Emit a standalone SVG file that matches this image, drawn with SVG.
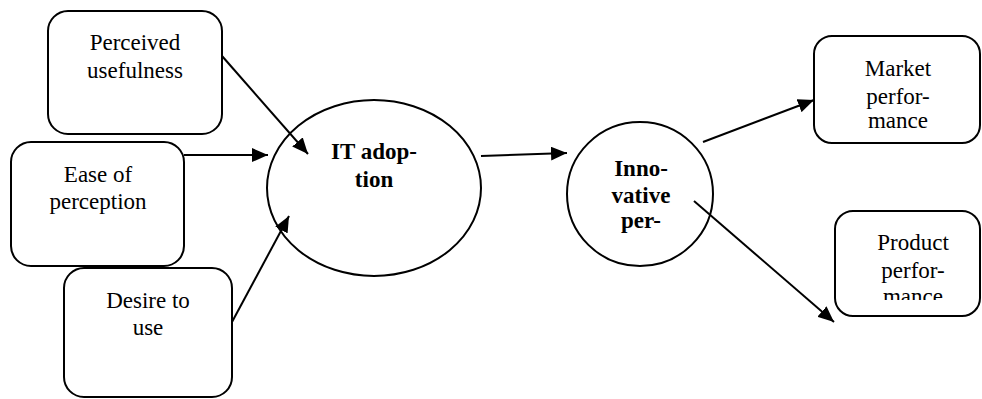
<svg xmlns="http://www.w3.org/2000/svg" width="982" height="399" viewBox="0 0 982 399">
  <style>
    .box { fill: #fff; stroke: #000; stroke-width: 2; }
    .oval { fill: #fff; stroke: #000; stroke-width: 2; }
    text { font-family: 'Liberation Serif', 'DejaVu Serif', serif; font-size: 23px; fill: #000; text-anchor: middle; }
    .bold { font-weight: bold; }
    .link { stroke: #000; stroke-width: 2; fill: none; marker-end: url(#head); }
  </style>
  <defs>
    <marker id="head" markerUnits="userSpaceOnUse" markerWidth="17" markerHeight="14" refX="16" refY="7" orient="auto">
      <path d="M0,0 L16,7 L0,14 z" fill="#000"/>
    </marker>
    <clipPath id="clipMarket"><rect x="814" y="36" width="167" height="94"/></clipPath>
    <clipPath id="clipProduct"><rect x="835" y="211" width="146" height="89"/></clipPath>
  </defs>
  <rect width="982" height="399" fill="#fff"/>

  <g id="perceived-usefulness">
    <rect class="box" x="48" y="11" width="174" height="123" rx="20"/>
    <text x="135" y="50">Perceived</text>
    <text x="135" y="78">usefulness</text>
  </g>

  <g id="ease-of-perception">
    <rect class="box" x="11" y="142" width="173" height="124" rx="20"/>
    <text x="98" y="182">Ease of</text>
    <text x="98" y="209">perception</text>
  </g>

  <g id="desire-to-use">
    <rect class="box" x="64" y="268" width="168" height="129" rx="20"/>
    <text x="148" y="308">Desire to</text>
    <text x="148" y="335">use</text>
  </g>

  <g id="it-adoption">
    <ellipse class="oval" cx="374" cy="188" rx="107" ry="88"/>
    <text class="bold" x="374" y="159">IT adop-</text>
    <text class="bold" x="374" y="187">tion</text>
  </g>

  <g id="innovative-performance">
    <ellipse class="oval" cx="640" cy="194" rx="73" ry="72"/>
    <text class="bold" x="641" y="176">Inno-</text>
    <text class="bold" x="641" y="203">vative</text>
    <text class="bold" x="641" y="228">per-</text>
  </g>

  <g id="market-performance">
    <rect class="box" x="814" y="36" width="166" height="107" rx="18"/>
    <g clip-path="url(#clipMarket)">
      <text x="898" y="76">Market</text>
      <text x="898" y="104">perfor-</text>
      <text x="898" y="128">mance</text>
    </g>
  </g>

  <g id="product-performance">
    <rect class="box" x="835" y="211" width="145" height="105" rx="18"/>
    <g clip-path="url(#clipProduct)">
      <text x="913" y="250">Product</text>
      <text x="913" y="278">perfor-</text>
      <text x="913" y="304">mance</text>
    </g>
  </g>

  <g id="connectors">
    <line class="link" x1="222" y1="56" x2="308" y2="154"/>
    <line class="link" x1="184" y1="155" x2="268" y2="155"/>
    <line class="link" x1="232" y1="322" x2="289" y2="216"/>
    <line class="link" x1="481" y1="156" x2="567" y2="153"/>
    <line class="link" x1="703" y1="142" x2="814" y2="100"/>
    <line class="link" x1="694" y1="201" x2="834" y2="322"/>
  </g>
</svg>
